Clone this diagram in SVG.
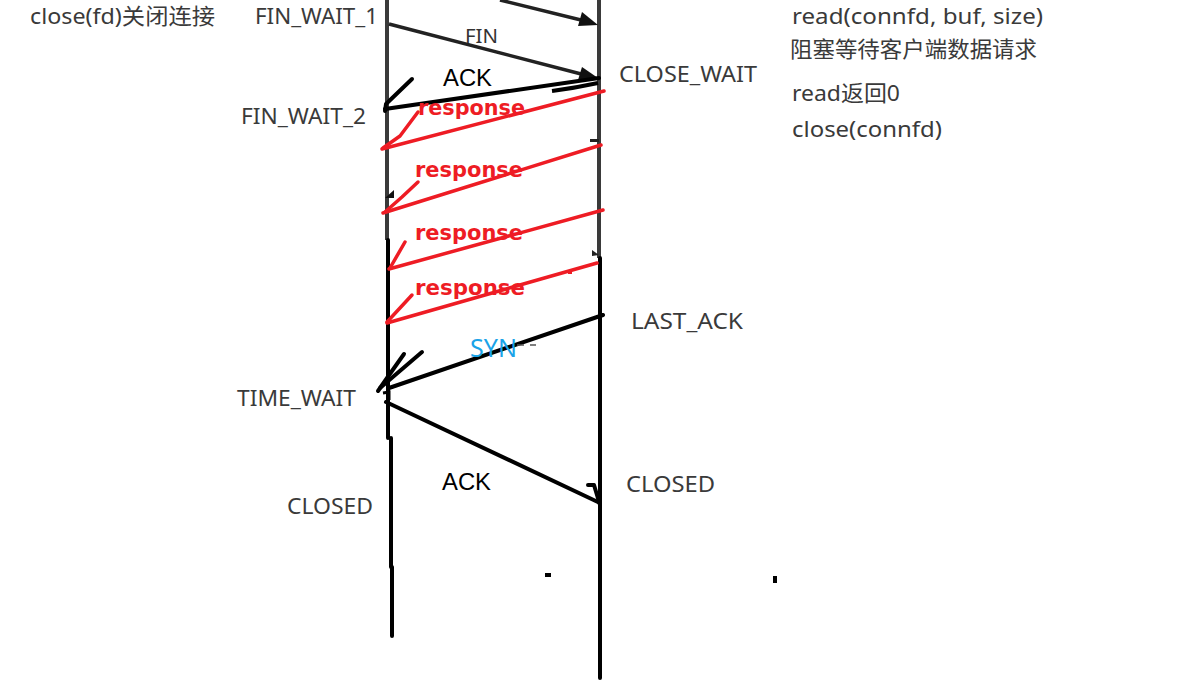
<svg xmlns="http://www.w3.org/2000/svg" width="1194" height="695" viewBox="0 0 1194 695">
<defs>
<style>
.lbl{font-family:"Noto Sans","Noto Sans CJK SC",sans-serif;font-size:22px;fill:#3a3a3a}
.hand{font-family:"Liberation Sans","Noto Sans",sans-serif;font-size:23px;fill:#000}
.resp{font-family:"DejaVu Sans","Noto Sans",sans-serif;font-weight:bold;font-size:22px;fill:#ee1c24}
.syn{font-family:"Noto Sans",sans-serif;font-size:25px;fill:#1aa3e8}
.grey{stroke:#3a3a3a;stroke-width:4;fill:none}
.blk{stroke:#000;stroke-width:4;fill:none;stroke-linecap:round;stroke-linejoin:round}
.red{stroke:#ee1c24;stroke-width:3.5;fill:none;stroke-linecap:round;stroke-linejoin:round}
</style>
</defs>
<rect width="1194" height="695" fill="#fff"/>

<g id="lifelines">
<line class="grey" x1="387" y1="0" x2="387" y2="240"/>
<path class="blk" stroke-linecap="butt" d="M388,240 L388,438 M391,438 L391,567 M392,567 L392,636"/>
<line class="grey" x1="599" y1="0" x2="599" y2="258"/>
<line class="blk" stroke-linecap="butt" x1="600" y1="258" x2="600" y2="678"/>
</g>

<g id="connectors">
<g id="fin-arrows">
<line stroke="#222" stroke-width="3.5" x1="500" y1="0" x2="585" y2="21"/>
<polygon points="598,25 582,12 578,26" fill="#111"/>
<line stroke="#222" stroke-width="3.5" x1="389" y1="24" x2="585" y2="75"/>
<polygon points="598,78 582,67 578,80" fill="#111"/>
</g>
<g id="ack-1">
<path class="blk" d="M599,78 L385,109"/>
<path class="blk" d="M412,79 L386,104 L385,111"/>
<path d="M552,91 Q575,88 598,83" stroke="#000" stroke-width="4" fill="none"/>
</g>
<g id="responses">
<path class="red" d="M604,91 L382,149"/>
<path class="red" d="M418,112 L400,136 L383,148"/>
<path class="red" d="M601,145 L383,213"/>
<path class="red" d="M418,182 L402,197 L385,212"/>
<path class="red" d="M603,210 L389,269"/>
<path class="red" d="M405,242 L390,268"/>
<path class="red" d="M597,263 L387,323"/>
<path class="red" d="M412,295 L387,322"/>
<rect x="568" y="270" width="4" height="4" fill="#ee1c24"/>
</g>
<g id="syn-line">
<path class="blk" d="M603,315 L389,388"/>
<path class="blk" d="M422,352 L380,388"/>
<path class="blk" d="M404,354 L387,378 L378,391"/>
<path d="M517,345 h7 M530,345 h6" stroke="#555" stroke-width="1.5"/>
</g>
<g id="ack-2">
<path class="blk" d="M386,402 L600,503"/>
<path class="blk" d="M588,485 L594,485 L600,505"/>
<path stroke="#000" stroke-width="3" fill="none" d="M383,393 L389,392 L389,400"/>
</g>
<g id="marks">
<polygon points="385,198 394,190 394,198" fill="#111"/>
<rect x="590" y="139" width="9" height="3" fill="#222"/>
<polygon points="592,250 599,255 592,256" fill="#222"/>
<rect x="545" y="573" width="6" height="4" fill="#000"/>
<rect x="773" y="576" width="4" height="7" fill="#000"/>
</g>
</g>

<g id="labels">
<text class="lbl" x="30" y="24" font-size="20" textLength="185" lengthAdjust="spacingAndGlyphs">close(fd)关闭连接</text>
<g id="fin-wait-1"><text class="lbl" x="255" y="24" textLength="123" lengthAdjust="spacingAndGlyphs">FIN_WAIT_1</text></g>
<g id="fin-wait-2"><text class="lbl" x="241" y="124" textLength="125" lengthAdjust="spacingAndGlyphs">FIN_WAIT_2</text></g>
<g id="close-wait"><text class="lbl" x="619" y="82" textLength="138" lengthAdjust="spacingAndGlyphs">CLOSE_WAIT</text></g>
<g id="last-ack"><text class="lbl" x="631" y="329" textLength="112" lengthAdjust="spacingAndGlyphs">LAST_ACK</text></g>
<g id="time-wait"><text class="lbl" x="237" y="406" textLength="119" lengthAdjust="spacingAndGlyphs">TIME_WAIT</text></g>
<g id="closed-left"><text class="lbl" x="287" y="514" textLength="86" lengthAdjust="spacingAndGlyphs">CLOSED</text></g>
<g id="closed-right"><text class="lbl" x="626" y="492" textLength="89" lengthAdjust="spacingAndGlyphs">CLOSED</text></g>
<g id="server-notes">
<text class="lbl" x="792" y="24" textLength="251" lengthAdjust="spacingAndGlyphs">read(connfd, buf, size)</text>
<text class="lbl" x="790" y="57" font-size="21" textLength="247" lengthAdjust="spacingAndGlyphs">阻塞等待客户端数据请求</text>
<text class="lbl" x="792" y="101" textLength="108" lengthAdjust="spacingAndGlyphs">read返回0</text>
<text class="lbl" x="792" y="137" textLength="150" lengthAdjust="spacingAndGlyphs">close(connfd)</text>
</g>
<text x="465" y="43" font-family="Noto Sans,sans-serif" font-size="19" fill="#333" textLength="33" lengthAdjust="spacingAndGlyphs">FIN</text>
<text class="hand" x="443" y="86" textLength="49" lengthAdjust="spacingAndGlyphs">ACK</text>
<text class="resp" x="418" y="115" textLength="107" lengthAdjust="spacingAndGlyphs">response</text>
<text class="resp" x="415" y="177" textLength="108" lengthAdjust="spacingAndGlyphs">response</text>
<text class="resp" x="415" y="240" textLength="108" lengthAdjust="spacingAndGlyphs">response</text>
<text class="resp" x="415" y="295" textLength="110" lengthAdjust="spacingAndGlyphs">response</text>
<text class="syn" x="470" y="357" textLength="47" lengthAdjust="spacingAndGlyphs">SYN</text>
<text class="hand" x="442" y="490" textLength="49" lengthAdjust="spacingAndGlyphs">ACK</text>
</g>
</svg>
